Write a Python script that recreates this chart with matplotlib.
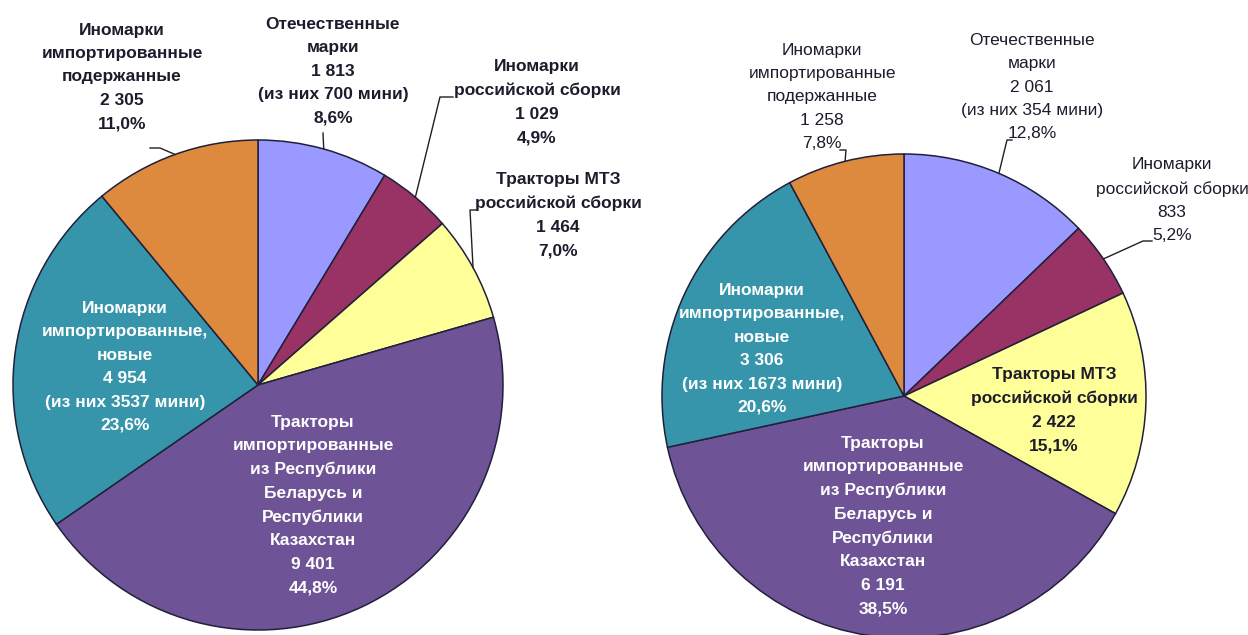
import numpy as np
import matplotlib
matplotlib.use("Agg")
import matplotlib.pyplot as plt

plt.rcParams["font.family"] = ["Liberation Sans", "DejaVu Sans"]

# slice order: clockwise from 12 o'clock
categories = [
    "Отечественные марки",
    "Иномарки российской сборки",
    "Тракторы МТЗ российской сборки",
    "Тракторы импортированные из РБ и РК",
    "Иномарки импортированные, новые",
    "Иномарки импортированные подержанные",
]
values_left = [1813, 1029, 1464, 9401, 4954, 2305]
values_right = [2061, 833, 2422, 6191, 3306, 1258]
pct_left = ["8,6%", "4,9%", "7,0%", "44,8%", "23,6%", "11,0%"]
pct_right = ["12,8%", "5,2%", "15,1%", "38,5%", "20,6%", "7,8%"]
num_left = ["1 813", "1 029", "1 464", "9 401", "4 954", "2 305"]
num_right = ["2 061", "833", "2 422", "6 191", "3 306", "1 258"]
mini_left = {0: "700", 4: "3537"}
mini_right = {0: "354", 4: "1673"}

name_lines = [
    "Отечественные\nмарки",
    "Иномарки\nроссийской сборки",
    "Тракторы МТЗ\nроссийской сборки",
    "Тракторы\nимпортированные\nиз Республики\nБеларусь и\nРеспублики\nКазахстан",
    "Иномарки\nимпортированные,\nновые",
    "Иномарки\nимпортированные\nподержанные",
]

colors = ["#9999FF", "#993366", "#FFFF99", "#6E5497", "#3795AB", "#DE8A3E"]
DARK = "#1c1c2c"

W, H = 1248, 635

WIDE = dict(size=12.5, fontweight="bold")
SLIM = dict(size=12.5, fontweight="normal")


def Y(py):
    return H - py


def label_text(i, nums, pcts, mini):
    parts = [name_lines[i], nums[i]]
    if i in mini:
        parts.append(f"(из них {mini[i]} мини)")
    parts.append(pcts[i])
    return "\n".join(parts)


fig = plt.figure(figsize=(12.48, 6.35), dpi=100)
ax = fig.add_axes([0, 0, 1, 1])

pies = [
    dict(c=(258, 385), r=245, vals=values_left, nums=num_left, pcts=pct_left, mini=mini_left,
         # (x, block centre y, colour, font)
         text=[(333, 71, DARK, WIDE), (537, 102, DARK, WIDE), (558, 215, DARK, WIDE),
               (313, 505, "white", WIDE), (125, 367, "white", WIDE), (122, 77, DARK, WIDE)],
         leaders={0: [(323, 133)], 1: [(453, 97), (440, 97)], 2: [(476, 210), (470, 210)],
                  5: [(150, 148), (160, 148)]}),
    dict(c=(904, 396), r=242, vals=values_right, nums=num_right, pcts=pct_right, mini=mini_right,
         text=[(1032, 87, DARK, SLIM), (1172, 200, DARK, SLIM), (1054, 410, DARK, WIDE),
               (883, 526, "white", WIDE), (762, 349, "white", WIDE), (822, 97, DARK, SLIM)],
         leaders={0: [(1012, 140), (1007, 140)], 1: [(1152, 241), (1143, 241)],
                  5: [(840, 150), (846, 150)]}),
]

for p in pies:
    cx, cy = p["c"]
    wedges, _ = ax.pie(p["vals"], colors=colors, startangle=90, counterclock=False,
                       center=(cx, Y(cy)), radius=p["r"],
                       wedgeprops=dict(edgecolor="#20203a", linewidth=1.1))
    for i, (tx, ty, col, fnt) in enumerate(p["text"]):
        ax.text(tx, Y(ty), label_text(i, p["nums"], p["pcts"], p["mini"]),
                ha="center", va="center", color=col, linespacing=1.7, **fnt)
    for i, pts in p["leaders"].items():
        w = wedges[i]
        mid = np.deg2rad((w.theta1 + w.theta2) / 2)
        ex = cx + p["r"] * np.cos(mid)
        ey = Y(cy) + p["r"] * np.sin(mid)
        xs = [x for x, _ in pts] + [ex]
        ys = [Y(y) for _, y in pts] + [ey]
        ax.plot(xs, ys, color="#202020", linewidth=1.0)

ax.set_xlim(0, W)
ax.set_ylim(0, H)
ax.set_aspect("auto")
ax.axis("off")

fig.savefig("out.png", dpi=100, facecolor="white")
